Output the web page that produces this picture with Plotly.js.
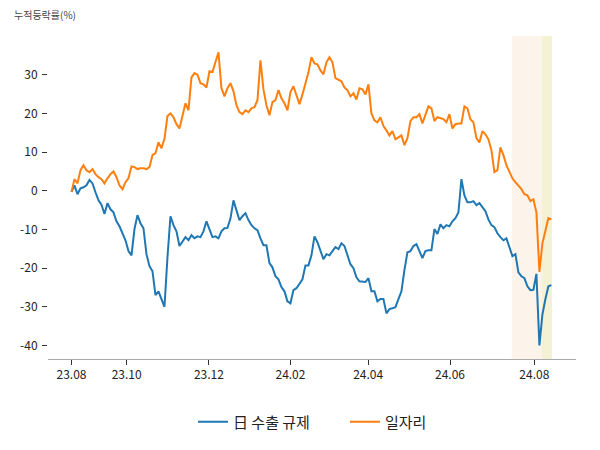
<!DOCTYPE html>
<html>
<head>
<meta charset="utf-8">
<script src="https://cdn.plot.ly/plotly-3.0.1.min.js"></script>
<style>html,body{margin:0;padding:0;background:#fff;}#chart{width:600px;height:450px;}</style>
</head>
<body>
<div id="chart"></div>
<script>
// Cumulative change (%) per trading day, starting 23.08
const seriesNames = ['日 수출 규제', '일자리'];
const exportReg = [
-0.3, 1.4, -0.9, 0.6, 0.9, 1.4, 2.8, 1.9, -0.4, -2.5,
-3.6, -6.0, -3.2, -4.8, -5.6, -7.9, -9.2, -11.2, -12.8, -15.6,
-16.7, -9.9, -6.3, -8.4, -9.7, -16.4, -19.5, -20.8, -27.0, -26.0,
-28.3, -30.0, -17.2, -6.6, -8.9, -10.5, -14.3, -13.0, -12.0, -12.8,
-11.5, -12.3, -11.8, -12.0, -10.5, -7.9, -9.9, -12.0, -11.8, -12.3,
-10.5, -9.7, -9.6, -7.2, -2.5, -5.0, -7.6, -6.6, -5.8, -7.6,
-8.9, -9.7, -10.2, -12.3, -14.1, -14.1, -18.7, -19.8, -22.1, -22.9,
-24.9, -26.0, -28.6, -29.1, -25.7, -25.2, -23.9, -22.9, -19.3, -19.3,
-16.7, -11.8, -13.3, -15.6, -17.7, -16.4, -16.7, -15.6, -14.6, -15.1,
-13.6, -14.3, -16.4, -19.0, -20.0, -22.4, -23.4, -23.6, -23.6, -22.6,
-26.0, -26.0, -28.6, -28.0, -28.0, -31.7, -30.6, -30.4, -30.1, -28.0,
-26.0, -20.5, -15.9, -15.6, -14.3, -13.8, -15.6, -17.4, -15.6, -15.4,
-15.4, -9.9, -11.2, -8.7, -9.7, -8.9, -9.2, -7.9, -7.1, -5.6,
3.0, -1.2, -3.0, -3.0, -2.7, -3.7, -3.2, -4.3, -5.3, -7.4,
-8.9, -9.4, -11.0, -12.0, -12.8, -12.3, -14.9, -16.9, -16.4, -21.1,
-22.1, -22.6, -24.7, -25.7, -25.6, -21.5, -40.0, -32.0, -28.0, -24.7,
-24.4
];
const jobs = [
-0.3, 3.0, 1.9, 5.3, 6.6, 5.3, 4.8, 5.6, 4.3, 3.5,
3.0, 1.9, 3.2, 4.3, 5.0, 3.5, 1.4, 0.4, 2.2, 3.2,
6.3, 6.1, 5.6, 5.8, 5.8, 5.6, 6.1, 9.2, 9.7, 12.5,
11.0, 13.4, 19.3, 20.0, 19.0, 17.2, 16.1, 19.5, 22.6, 20.8,
29.3, 30.4, 30.0, 27.8, 27.5, 26.7, 30.9, 30.7, 33.2, 35.8,
26.5, 24.4, 26.5, 27.8, 25.7, 22.1, 20.3, 19.8, 20.8, 20.3,
21.3, 21.6, 23.4, 33.7, 26.2, 22.1, 19.5, 22.9, 23.4, 26.0,
23.9, 22.6, 20.8, 25.5, 27.0, 24.7, 22.4, 24.9, 28.0, 30.6,
34.5, 32.9, 32.7, 31.1, 30.1, 33.2, 34.5, 33.2, 29.1, 28.6,
28.3, 26.7, 26.0, 24.4, 25.2, 23.6, 26.5, 26.2, 24.9, 27.5,
20.0, 18.2, 17.7, 19.0, 16.7, 15.6, 14.3, 15.4, 13.3, 13.8,
14.3, 11.8, 13.6, 18.0, 19.0, 19.0, 19.8, 17.4, 19.5, 21.8,
21.3, 18.0, 19.0, 18.7, 18.5, 17.7, 19.8, 16.1, 17.2, 17.4,
17.4, 21.8, 21.3, 18.5, 17.7, 13.6, 12.5, 15.4, 14.6, 13.3,
10.5, 4.8, 5.3, 11.2, 9.2, 6.6, 4.8, 3.2, 2.2, 1.4,
0.4, -0.9, -1.2, -2.7, -2.2, -5.6, -21.0, -13.6, -10.7, -7.1,
-7.4
];
// x tick labels and the trading-day index where each month begins
const tickLabels = ['23.08', '23.10', '23.12', '24.02', '24.04', '24.06', '24.08'];
const tickIndex = [0, 18.4, 45.8, 73, 98.9, 126.2, 154.3];
const yTicks = [-40, -30, -20, -10, 0, 10, 20, 30];
// highlighted periods (trading-day index)
const period1 = [146.8, 156.8];
const period2 = [156.8, 160.2];

const idx = jobs.map((_, i) => i);
const FONT = '"Noto Sans CJK KR", "Noto Sans", sans-serif';

const traces = [
  {x: idx, y: exportReg, name: seriesNames[0], type: 'scatter', mode: 'lines',
   line: {color: '#1f77b4', width: 2}},
  {x: idx, y: jobs, name: seriesNames[1], type: 'scatter', mode: 'lines',
   line: {color: '#ff7f0e', width: 2}}
];

const layout = {
  width: 600, height: 450,
  margin: {l: 48, r: 24, t: 36, b: 91},
  paper_bgcolor: '#fff', plot_bgcolor: '#fff',
  font: {family: FONT, size: 12, color: '#222'},
  showlegend: true,
  legend: {orientation: 'h', x: (193 - 48) / 528, xanchor: 'left', y: -0.195, yanchor: 'middle',
           entrywidth: 107, entrywidthmode: 'pixels',
           font: {family: FONT, size: 15, color: '#222'}},
  xaxis: {range: [-7.83, 168.2], showgrid: false, zeroline: false,
          showline: true, linecolor: '#aaaaaa', linewidth: 1,
          ticks: 'outside', ticklen: 5, tickcolor: '#333', tickwidth: 1,
          tickvals: tickIndex, ticktext: tickLabels,
          tickfont: {family: FONT, size: 12, color: '#222'}},
  yaxis: {range: [-43.5, 40], showgrid: false, zeroline: false, showline: false,
          ticks: 'outside', ticklen: 5, tickcolor: '#333', tickwidth: 1,
          tickvals: yTicks, ticktext: yTicks.map(v => String(v)),
          ticklabelstandoff: 2,
          tickfont: {family: FONT, size: 12, color: '#222'}},
  shapes: [
    {type: 'rect', xref: 'x', yref: 'paper', x0: period1[0], x1: period1[1], y0: 0, y1: 1,
     fillcolor: '#fcf3ea', line: {width: 0}, layer: 'below'},
    {type: 'rect', xref: 'x', yref: 'paper', x0: period2[0], x1: period2[1], y0: 0, y1: 1,
     fillcolor: '#f5f1d5', line: {width: 0}, layer: 'below'}
  ],
  annotations: [
    {text: '누적등락률(%)', xref: 'paper', yref: 'paper', x: -36/528, y: 1 + 22/323,
     xanchor: 'left', yanchor: 'middle', showarrow: false,
     font: {family: FONT, size: 10, color: '#444'}}
  ]
};

Plotly.newPlot('chart', traces, layout, {staticPlot: true, displayModeBar: false});
</script>
</body>
</html>
